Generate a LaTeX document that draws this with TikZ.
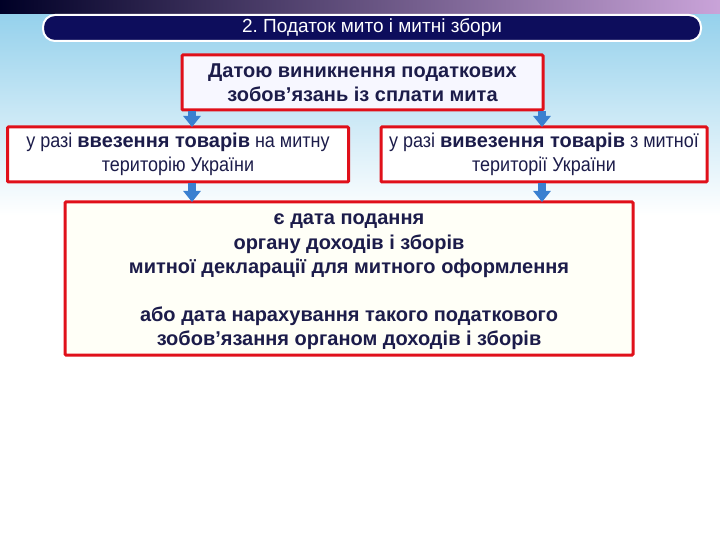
\documentclass[tikz,border=0pt]{standalone}
\usepackage{fontspec}
\setmainfont{Liberation Sans}
\newfontfamily\narrowfont[FakeStretch=0.9]{Liberation Sans}
\usetikzlibrary{arrows.meta}
\frenchspacing
\definecolor{navy}{HTML}{0D0D5C}
\definecolor{txt}{HTML}{1C1C4A}
\definecolor{boxred}{HTML}{E0101A}
\definecolor{skyblue}{HTML}{95D1EC}
\definecolor{arrblue}{HTML}{3A80D0}
\definecolor{arredge}{HTML}{2A62AE}
\newcommand{\bt}[1]{{\fontspec{Liberation Sans}\bfseries #1}}
\tikzset{
  redbox/.style={draw=boxred, line width=3pt, rounded corners=1pt, align=center, text=txt, inner sep=0pt},
  downarr/.style={line width=7.5pt, arrblue, -{Triangle[width=17pt,length=11pt]}, shorten >=-1.5pt},
  btxt/.style={font=\fontsize{20}{24.5}\selectfont\bfseries},
  rtxt/.style={font=\fontsize{20}{24}\selectfont\narrowfont}
}
\begin{document}
\begin{tikzpicture}[x=1pt,y=-1pt]
\useasboundingbox (0,0) rectangle (720,540);
\fill[white] (0,0) rectangle (720,540);
\shade[top color=skyblue, bottom color=white] (0,14) rectangle (720,215);
\shade[left color=black!85!blue, right color=blue!20!white!80!purple] (0,0) rectangle (720,14);
\node[draw=white, line width=2pt, fill=navy, rounded corners=12pt, minimum width=658pt, minimum height=26pt, inner sep=0pt,
  text=white, font=\fontsize{19}{20}\selectfont] (title) at (372,28) {2.~Податок мито і митні збори};

\node[redbox, fill=blue!3!white, minimum width=361pt, minimum height=55pt, btxt] (b1) at (362.5,82.5)
  {Датою виникнення податкових\\зобов’язань із сплати мита};
\node[redbox, fill=white, minimum width=341pt, minimum height=55pt, rtxt] (b2) at (178,154.5)
  {у разі \bt{ввезення товарів} на митну\\територію України};
\node[redbox, fill=white, minimum width=326pt, minimum height=55pt, rtxt] (b3) at (544,154.5)
  {у разі \bt{вивезення товарів} з митної\\території України};
\node[redbox, fill=yellow!3!white, minimum width=568pt, minimum height=153pt] (b4) at (349,278.5) {};
\node[align=center, text=txt, btxt, inner sep=0pt] (b4t) at ([yshift=-3.5pt]b4.center)
  {є дата подання\\органу доходів і зборів\\митної декларації для митного оформлення\\[23pt]або дата нарахування такого податкового\\зобов’язання органом доходів і зборів};

\coordinate (xl) at (192,0);
\coordinate (xr) at (542,0);
\draw[downarr] (b1.south -| xl) -- (b2.north -| xl);
\draw[downarr] (b1.south -| xr) -- (b3.north -| xr);
\draw[downarr] (b2.south -| xl) -- (b4.north -| xl);
\draw[downarr] (b3.south -| xr) -- (b4.north -| xr);
\end{tikzpicture}
\end{document}
